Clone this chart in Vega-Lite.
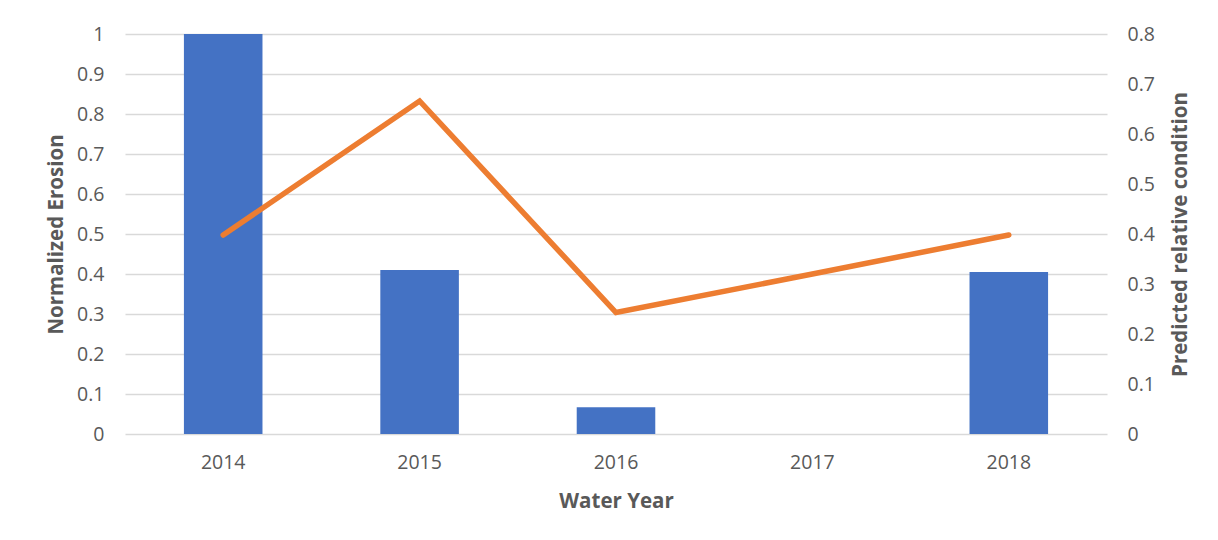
{
  "$schema": "https://vega.github.io/schema/vega-lite/v6.json",
  "width": 982,
  "height": 400,
  "autosize": {"type": "none"},
  "padding": {"left": 125, "top": 34, "right": 111, "bottom": 106},
  "background": "white",
  "data": {
    "values": [
      {"year": "2014", "erosion": 1.0, "condition": 0.398},
      {"year": "2015", "erosion": 0.41, "condition": 0.666},
      {"year": "2016", "erosion": 0.067, "condition": 0.243},
      {"year": "2017", "erosion": null, "condition": 0.32},
      {"year": "2018", "erosion": 0.405, "condition": 0.398}
    ]
  },
  "encoding": {
    "x": {
      "field": "year",
      "type": "ordinal",
      "scale": {"paddingInner": 0.6, "paddingOuter": 0.3},
      "axis": {
        "title": "Water Year",
        "labelAngle": 0,
        "domain": false,
        "ticks": false,
        "labelPadding": 19,
        "titlePadding": 20,
        "labelFont": "Open Sans",
        "labelFontSize": 19.5,
        "labelColor": "#595959",
        "titleFont": "Open Sans",
        "titleFontSize": 20.5,
        "titleFontWeight": "bold",
        "titleColor": "#595959"
      }
    }
  },
  "layer": [
    {
      "mark": {"type": "bar", "color": "#4472C4"},
      "encoding": {
        "y": {
          "field": "erosion",
          "type": "quantitative",
          "scale": {"domain": [0, 1], "nice": false},
          "axis": {
            "title": "Normalized Erosion",
            "values": [0, 0.1, 0.2, 0.3, 0.4, 0.5, 0.6, 0.7, 0.8, 0.9, 1],
            "format": "~g",
            "domain": false,
            "ticks": false,
            "grid": true,
            "gridColor": "#D9D9D9",
            "gridWidth": 1.5,
            "labelPadding": 21,
            "titlePadding": 10,
            "labelFont": "Open Sans",
            "labelFontSize": 19.5,
            "labelColor": "#595959",
            "titleFont": "Open Sans",
            "titleFontSize": 20.5,
            "titleFontWeight": "bold",
            "titleColor": "#595959"
          }
        }
      }
    },
    {
      "mark": {"type": "line", "color": "#ED7D31", "strokeWidth": 5.5, "strokeCap": "round"},
      "encoding": {
        "y": {
          "field": "condition",
          "type": "quantitative",
          "scale": {"domain": [0, 0.8], "nice": false},
          "axis": {
            "orient": "right",
            "title": "Predicted relative condition",
            "titleAngle": -90,
            "values": [0, 0.1, 0.2, 0.3, 0.4, 0.5, 0.6, 0.7, 0.8],
            "format": "~g",
            "domain": false,
            "ticks": false,
            "grid": false,
            "labelPadding": 20,
            "titlePadding": 36,
            "labelFont": "Open Sans",
            "labelFontSize": 19.5,
            "labelColor": "#595959",
            "titleFont": "Open Sans",
            "titleFontSize": 20.5,
            "titleFontWeight": "bold",
            "titleColor": "#595959"
          }
        }
      }
    }
  ],
  "resolve": {"scale": {"y": "independent"}},
  "config": {"view": {"stroke": null}}
}
